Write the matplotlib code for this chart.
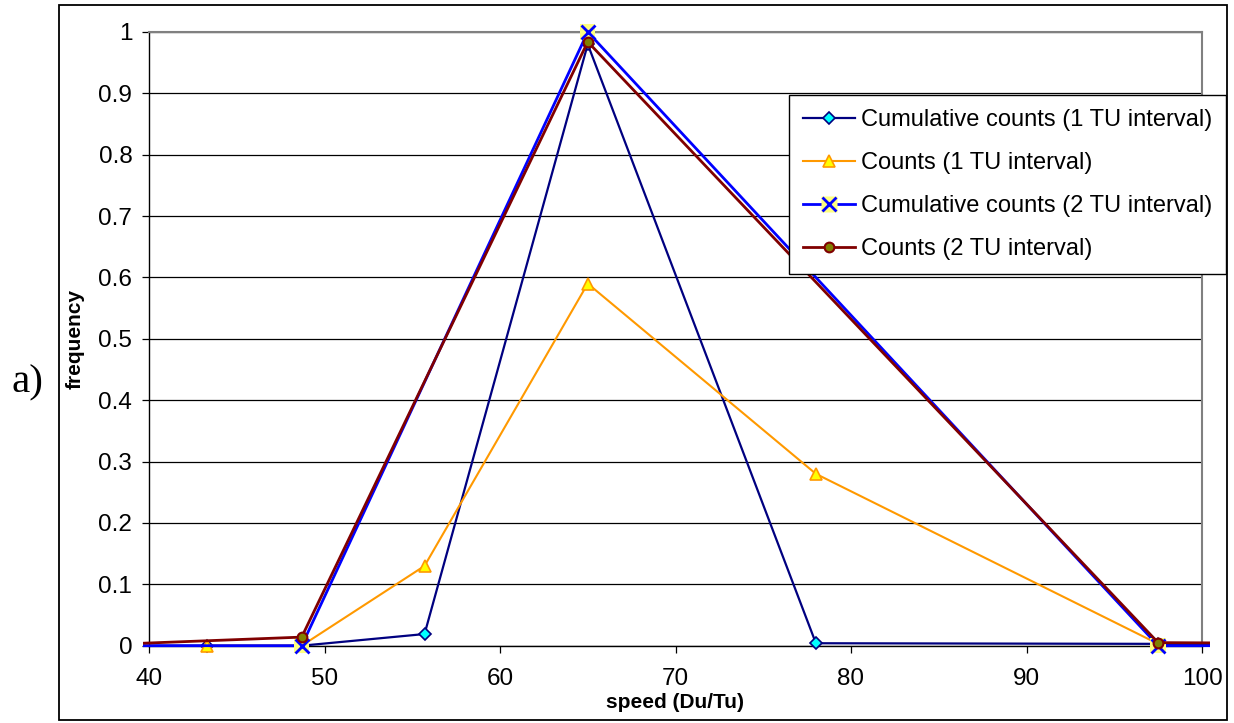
import matplotlib
matplotlib.use('Agg')
import matplotlib.pyplot as plt
from matplotlib.lines import Line2D
from matplotlib.legend_handler import HandlerTuple
from matplotlib.transforms import Bbox, TransformedBbox
from matplotlib.patches import Rectangle

plt.rcParams['font.family'] = ['Liberation Sans', 'DejaVu Sans']

# ---- data ----
x_cum1 = [36.0, 43.3, 48.7, 55.7, 65.0, 78.0, 97.5, 105.0]
y_cum1 = [0.0, 0.0, 0.0, 0.019, 0.98, 0.004, 0.003, 0.003]

x_cnt1 = [43.3, 48.7, 55.7, 65.0, 78.0, 97.5]
y_cnt1 = [0.0, 0.0, 0.13, 0.59, 0.28, 0.003]

x_cum2 = [36.0, 48.7, 65.0, 97.5, 105.0]
y_cum2 = [0.0, 0.0, 1.0, 0.0, 0.0]

x_cnt2 = [36.0, 48.7, 65.0, 97.5, 105.0]
y_cnt2 = [0.0, 0.014, 0.984, 0.005, 0.004]

labels = ['Cumulative counts (1 TU interval)', 'Counts (1 TU interval)',
          'Cumulative counts (2 TU interval)', 'Counts (2 TU interval)']
x_ticks = [40, 50, 60, 70, 80, 90, 100]
y_ticks = [0, 0.1, 0.2, 0.3, 0.4, 0.5, 0.6, 0.7, 0.8, 0.9, 1.0]
y_ticklabels = ['0', '0.1', '0.2', '0.3', '0.4', '0.5', '0.6', '0.7', '0.8', '0.9', '1']

W, H = 1234, 723
fig = plt.figure(figsize=(W / 100, H / 100), dpi=100)
ax = fig.add_axes([149 / W, (H - 645.7) / H, 1053 / W, 613.7 / H])
ax.set_xlim(40, 100)
ax.set_ylim(0, 1)

clip = TransformedBbox(Bbox.from_extents(-6 / 1053, -0.03, 1 + 8 / 1053, 1.03), ax.transAxes)

XBG = '#FFFF80'
l1, = ax.plot(x_cum1, y_cum1, color='#000080', lw=1.6, marker='D', ms=5.8,
              mfc='#00FFFF', mec='#000080', mew=1.2, zorder=3)
l2, = ax.plot(x_cnt1, y_cnt1, color='#FF9900', lw=1.5, marker='^', ms=9,
              mfc='#FFFF00', mec='#FF9900', mew=1.2, zorder=4)
l3, = ax.plot(x_cum2, y_cum2, color='#0000FF', lw=2.0, zorder=5)
l3s = ax.scatter(x_cum2, y_cum2, marker='s', s=11 ** 2, c=XBG,
                 edgecolors='none', zorder=5.05)
l3x, = ax.plot(x_cum2, y_cum2, ls='none', marker='x', ms=9.5, mew=2,
               color='#0000FF', zorder=5.1)
l4, = ax.plot(x_cnt2, y_cnt2, color='#800000', lw=2.0, marker='o', ms=7,
              mfc='#808000', mec='#800000', mew=1.5, zorder=6)
for a in (l1, l2, l3, l3s, l3x, l4):
    a.set_clip_box(clip)

ax.set_xticks(x_ticks)
ax.set_yticks(y_ticks)
ax.set_yticklabels(y_ticklabels)
ax.tick_params(axis='both', direction='out', length=5, width=0.9, color='black',
               labelsize=17.5, pad=7)
ax.tick_params(axis='x', pad=11)
ax.yaxis.grid(True, color='black', lw=0.9)
ax.set_axisbelow(True)
for s in ('left', 'bottom'):
    ax.spines[s].set_color('black')
    ax.spines[s].set_linewidth(1.0)
for s in ('top', 'right'):
    ax.spines[s].set_color('#808080')
    ax.spines[s].set_linewidth(1.5)

fig.text(675 / W, 1 - 703 / H, 'speed (Du/Tu)', ha='center', va='center',
         fontsize=15, fontweight='bold')
fig.text(75.5 / W, 1 - 339 / H, 'frequency', ha='center', va='center',
         rotation=90, fontsize=15, fontweight='bold')
fig.text(27.5 / W, 1 - 383 / H, 'a)', ha='center', va='center',
         fontsize=29.5, family=['Liberation Serif', 'DejaVu Serif'])

fig.add_artist(Rectangle((59 / W, 1 - 720 / H), (1227 - 59) / W, (720 - 5) / H,
                         transform=fig.transFigure, fill=False,
                         edgecolor='black', lw=1.3, zorder=0))

h1 = Line2D([], [], color='#000080', lw=1.6, marker='D', ms=5.8,
            mfc='#00FFFF', mec='#000080', mew=1.2)
h2 = Line2D([], [], color='#FF9900', lw=1.5, marker='^', ms=9,
            mfc='#FFFF00', mec='#FF9900', mew=1.2)
h3a = Line2D([], [], color='#0000FF', lw=2.0)
h3s = Line2D([], [], ls='none', marker='s', ms=11, markerfacecolor=XBG,
             markeredgecolor='none')
h3b = Line2D([], [], ls='none', marker='x', ms=9.5, mew=2, color='#0000FF')
h4 = Line2D([], [], color='#800000', lw=2.0, marker='o', ms=7,
            mfc='#808000', mec='#800000', mew=1.5)
leg = fig.legend([h1, h2, (h3a, h3s, h3b), h4], labels,
                 handler_map={tuple: HandlerTuple(ndivide=1)},
                 loc='upper left', bbox_to_anchor=(789 / W, 1 - 95 / H),
                 bbox_transform=fig.transFigure, borderaxespad=0,
                 fontsize=17, handlelength=2.2, handletextpad=0.25,
                 borderpad=0.6, labelspacing=0.885, fancybox=False,
                 framealpha=1, edgecolor='black')
leg.get_frame().set_linewidth(1.0)
leg.set_zorder(10)

fig.savefig('out.png', dpi=100)
